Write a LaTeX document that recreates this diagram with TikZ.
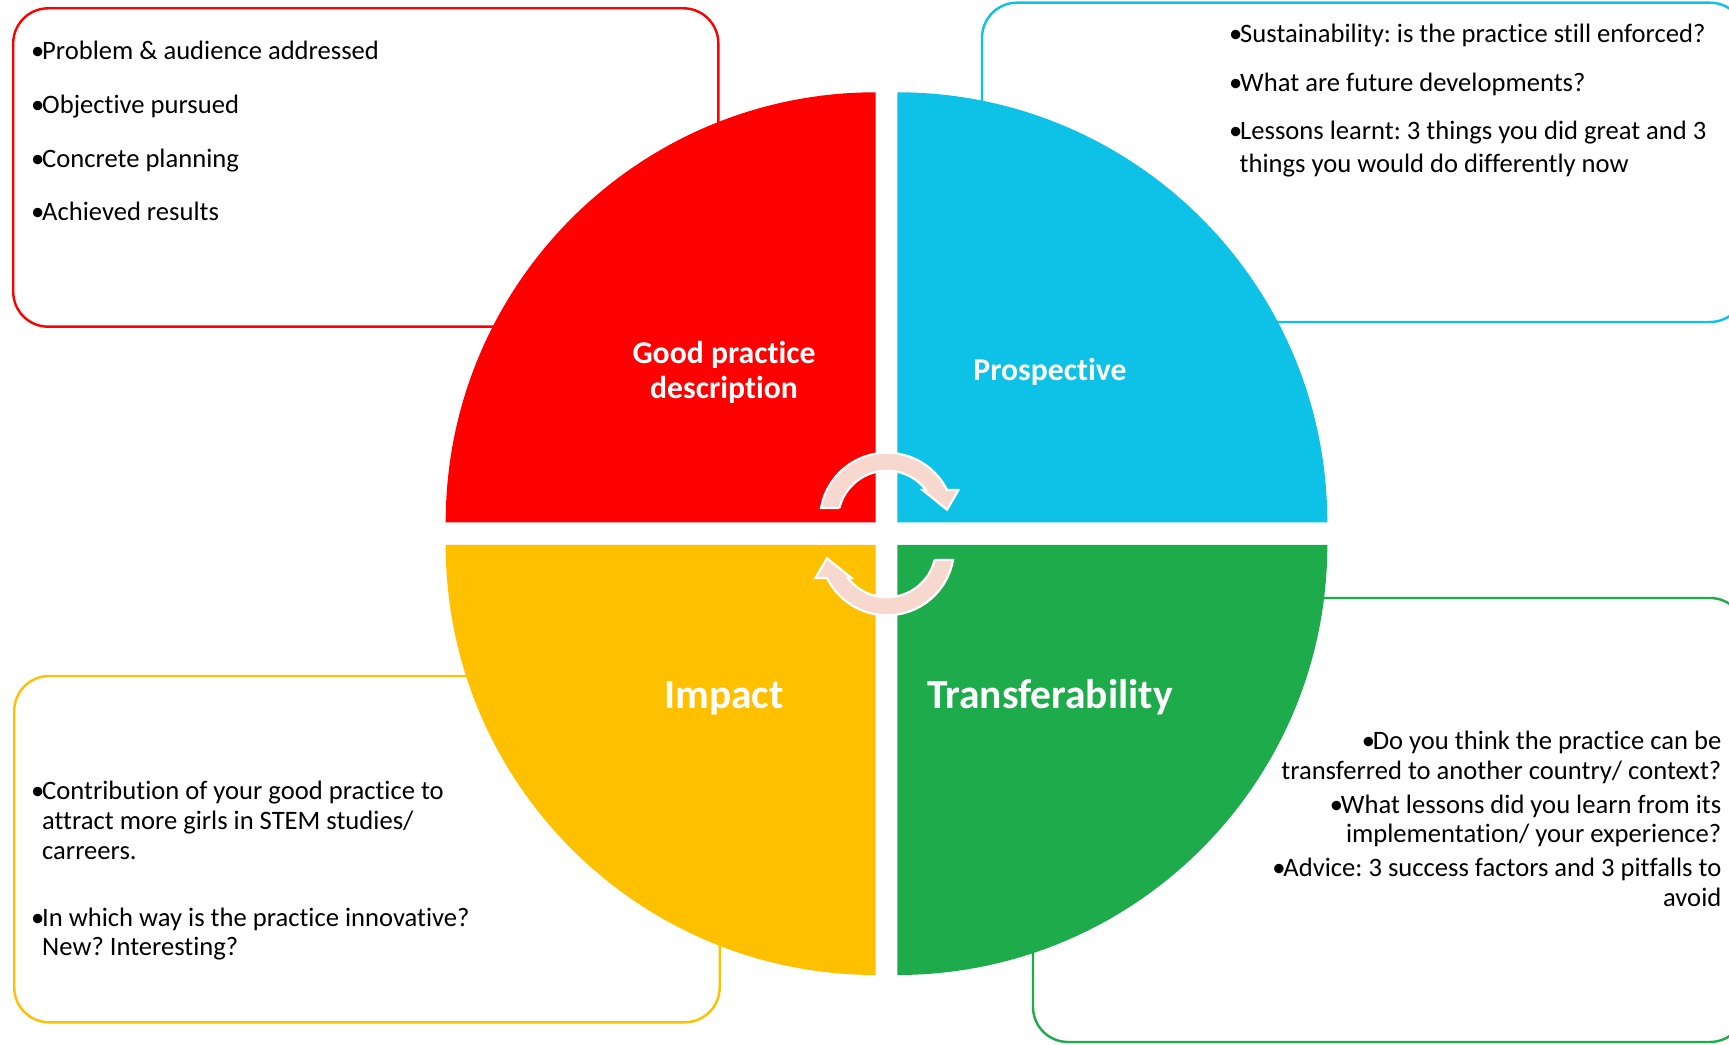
\documentclass[tikz,border=0pt]{standalone}
\usepackage{fontspec}
\setmainfont{Carlito}[Ligatures={NoCommon,NoContextual}, RawFeature={-liga;-clig;-calt;-dlig}]
\definecolor{qred}{RGB}{255,0,0}
\definecolor{qblue}{RGB}{14,193,231}
\definecolor{qyellow}{RGB}{255,192,0}
\definecolor{qgreen}{RGB}{30,171,75}
\definecolor{qpink}{RGB}{247,216,206}
\newcommand{\qbul}{\makebox[11pt][l]{•}}
\frenchspacing
\begin{document}
\begin{tikzpicture}[x=1pt,y=1pt,
  infobox/.style={line width=2.4pt, rounded corners=35pt},
  body/.style={inner sep=0pt, font=\fontsize{26.6}{32}\selectfont, text=black},
  lbl/.style={inner sep=0pt, text=white, font=\bfseries\fontsize{31.7}{35}\selectfont},
  biglbl/.style={inner sep=0pt, text=white, font=\bfseries\fontsize{41.5}{45}\selectfont},
  cyclearrow/.style={fill=qpink, draw=white, line width=2.2pt, line join=miter}
]
\useasboundingbox (0,0) rectangle (1729,1044);
\clip (0,0) rectangle (1729,1044);
\fill[white] (0,0) rectangle (1729,1044);

% info boxes
\draw[qred, infobox] (13.2,717.3) rectangle (718.3,1035.7);
\draw[qblue, infobox] (982,722) rectangle (1745,1041.3);
\draw[qyellow, infobox] (14.2,21.7) rectangle (719.7,368);
\draw[qgreen, infobox] (1033,2) rectangle (1745,446);

% quarters
\fill[qred] (875.7,521.7) -- ++(0,430) arc[start angle=90,end angle=180,radius=430] -- cycle;
\fill[qblue] (897.3,521.7) -- ++(0,430) arc[start angle=90,end angle=0,radius=430] -- cycle;
\fill[qyellow] (875.7,499) -- ++(0,-430) arc[start angle=270,end angle=180,radius=430] -- cycle;
\fill[qgreen] (897.3,499) -- ++(0,-430) arc[start angle=270,end angle=360,radius=430] -- cycle;

% cycle arrows
\begin{scope}[shift={(887,524.3)}]
\draw[cyclearrow] (-47.58,11.7) -- (-65.97,11.7) arc[start angle=169.9,end angle=26.3,radius=67]
  -- (71.5,29.7) -- (60,10) -- (35.5,29.7) -- (38.98,29.7)
  arc[start angle=37.3,end angle=166.2,radius=49] -- cycle;
\end{scope}
\begin{scope}[shift={(887,495.7)},rotate=180]
\draw[cyclearrow] (-47.58,11.7) -- (-65.97,11.7) arc[start angle=169.9,end angle=26.3,radius=67]
  -- (71.5,29.7) -- (60,10) -- (35.5,29.7) -- (38.98,29.7)
  arc[start angle=37.3,end angle=166.2,radius=49] -- cycle;
\end{scope}

% quarter labels
\node[lbl, anchor=base] (lgood1) at (724,680) {Good practice};
\node[lbl, anchor=base] (lgood2) at (724,645.4) {description};
\node[lbl, anchor=base] (lpros) at (1050,663) {Prospective};
\node[biglbl, anchor=base] (limp) at (724,335.4) {Impact};
\node[biglbl, anchor=base] (ltrans) at (1050,335.4) {Transferability};

% red box text
\node[body, anchor=base west] (r1) at (31,984) {\qbul Problem \& audience addressed};
\node[body, anchor=base west] (r2) at (31,930) {\qbul Objective pursued};
\node[body, anchor=base west] (r3) at (31,876) {\qbul Concrete planning};
\node[body, anchor=base west] (r4) at (31,823) {\qbul Achieved results};

% blue box text
\node[body, anchor=base west] (b1) at (1229,1001.3) {\qbul Sustainability: is the practice still enforced?};
\node[body, anchor=base west] (b2) at (1229,952.3) {\qbul What are future developments?};
\node[body, anchor=base west] (b3) at (1229,904) {\qbul Lessons learnt: 3 things you did great and 3};
\node[body, anchor=base west] (b4) at (1239.5,871.7) {things you would do differently now};

% yellow box text
\node[body, anchor=base west] (y1) at (31,244) {\qbul Contribution of your good practice to};
\node[body, anchor=base west] (y2) at (42,214.7) {attract more girls in STEM studies/};
\node[body, anchor=base west] (y3) at (42,184.7) {carreers.};
\node[body, anchor=base west] (y4) at (31,117.3) {\qbul In which way is the practice innovative?};
\node[body, anchor=base west] (y5) at (42,88) {New? Interesting?};

% green box text
\node[body, anchor=base east] (g1) at (1721.5,294) {\qbul Do you think the practice can be};
\node[body, anchor=base east] (g2) at (1721.5,264.7) {transferred to another country/ context?};
\node[body, anchor=base east] (g3) at (1721.5,230.7) {\qbul What lessons did you learn from its};
\node[body, anchor=base east] (g4) at (1721.5,201.3) {implementation/ your experience?};
\node[body, anchor=base east] (g5) at (1721.5,167.3) {\qbul Advice: 3 success factors and 3 pitfalls to};
\node[body, anchor=base east] (g6) at (1721.5,137.3) {avoid};
\end{tikzpicture}
\end{document}
